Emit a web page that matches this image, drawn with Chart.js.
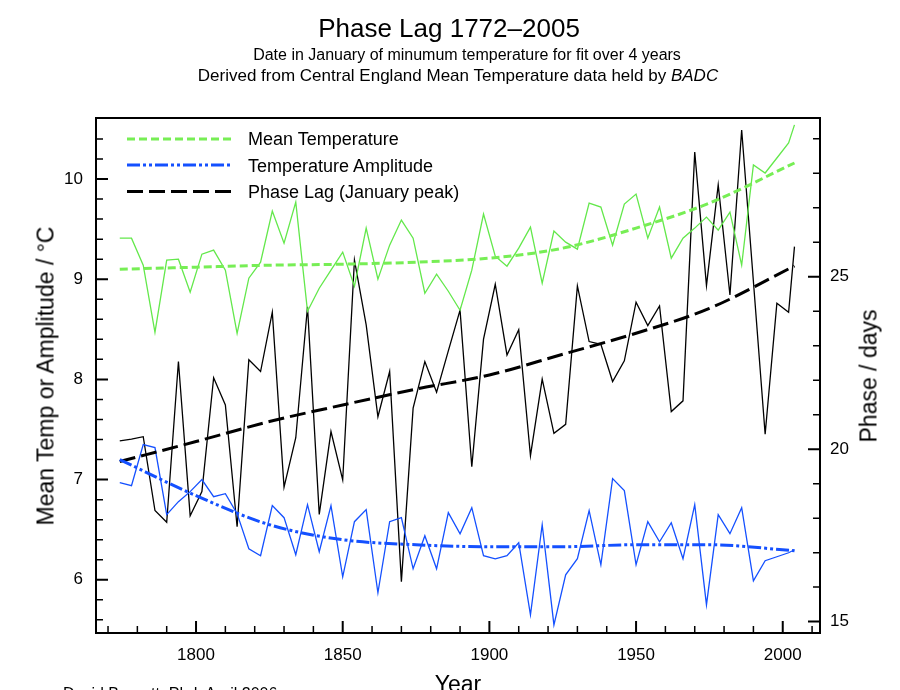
<!DOCTYPE html>
<html>
<head>
<meta charset="utf-8">
<script src="https://cdn.jsdelivr.net/npm/chart.js@4.4.1/dist/chart.umd.min.js"></script>
<style>
  html, body { margin: 0; padding: 0; background: #fff; overflow: hidden; }
  #wrap { position: relative; width: 900px; height: 690px; overflow: hidden;
          font-family: "Liberation Sans", Arial, Helvetica, sans-serif; color: #000; }
  #chart { position: absolute; left: 0; top: 0; }
  .t { position: absolute; white-space: nowrap; line-height: 1; }
  .c { transform: translateX(-50%); }
  .rot { transform: translate(-50%, -50%) rotate(-90deg); }
  #legendLines { position: absolute; left: 0; top: 0; }
</style>
</head>
<body>
<div id="wrap">
  <canvas id="chart" width="900" height="690"></canvas>

  <div class="t c" style="left:449px; top:15px; font-size:26px;">Phase Lag 1772–2005</div>
  <div class="t c" style="left:467px; top:47px; font-size:16px;">Date in January of minumum temperature for fit over 4 years</div>
  <div class="t c" style="left:458px; top:67px; font-size:17px;">Derived from Central England Mean Temperature data held by <i>BADC</i></div>

  <div class="t rot" style="left:46px; top:376px; font-size:23px;">Mean Temp or Amplitude / °C</div>
  <div class="t rot" style="left:869px; top:376px; font-size:23px;">Phase / days</div>
  <div class="t c" style="left:458px; top:673px; font-size:23px;">Year</div>
  <div class="t" style="left:63px; top:686px; font-size:16px;">David Barnett, Phd.  April 2006</div>

  <svg id="legendLines" width="900" height="690">
    <line x1="127" y1="139" x2="232" y2="139" stroke="#77ee55" stroke-width="3" stroke-dasharray="8 4"/>
    <line x1="127" y1="165" x2="232" y2="165" stroke="#1450ff" stroke-width="3" stroke-dasharray="13 3 3 3 3 3"/>
    <line x1="127" y1="191.5" x2="232" y2="191.5" stroke="#000" stroke-width="3" stroke-dasharray="16 6"/>
  </svg>
  <div class="t" style="left:248px; top:130px; font-size:18px;">Mean Temperature</div>
  <div class="t" style="left:248px; top:157px; font-size:18px;">Temperature Amplitude</div>
  <div class="t" style="left:248px; top:183px; font-size:18px;">Phase Lag (January peak)</div>
</div>

<script>
// values, one point per 4-year fit
const years = [1774, 1778, 1782, 1786, 1790, 1794, 1798, 1802, 1806, 1810,
  1814, 1818, 1822, 1826, 1830, 1834, 1838, 1842, 1846, 1850,
  1854, 1858, 1862, 1866, 1870, 1874, 1878, 1882, 1886, 1890,
  1894, 1898, 1902, 1906, 1910, 1914, 1918, 1922, 1926, 1930,
  1934, 1938, 1942, 1946, 1950, 1954, 1958, 1962, 1966, 1970,
  1974, 1978, 1982, 1986, 1990, 1994, 1998, 2002, 2004];

const meanTemp = [9.41, 9.41, 9.14, 8.47, 9.19, 9.20, 8.87, 9.25, 9.29, 9.09,
  8.46, 9.01, 9.17, 9.68, 9.36, 9.77, 8.68, 8.91, 9.09, 9.27,
  8.93, 9.51, 9.00, 9.34, 9.59, 9.41, 8.86, 9.05, 8.88, 8.69,
  9.09, 9.65, 9.23, 9.13, 9.31, 9.52, 8.96, 9.48, 9.37, 9.30,
  9.76, 9.72, 9.34, 9.75, 9.85, 9.41, 9.72, 9.21, 9.41, 9.51,
  9.62, 9.49, 9.67, 9.14, 10.14, 10.06, 10.21, 10.36, 10.54];

const amplitude = [6.97, 6.94, 7.35, 7.32, 6.65, 6.78, 6.88, 7.00, 6.83, 6.86,
  6.66, 6.31, 6.24, 6.74, 6.62, 6.25, 6.75, 6.28, 6.74, 6.03,
  6.58, 6.70, 5.87, 6.58, 6.62, 6.11, 6.44, 6.11, 6.67, 6.46,
  6.72, 6.24, 6.21, 6.24, 6.37, 5.65, 6.55, 5.55, 6.05, 6.21,
  6.69, 6.15, 7.01, 6.89, 6.15, 6.58, 6.38, 6.57, 6.21, 6.75,
  5.75, 6.65, 6.46, 6.72, 5.99, 6.19, 6.23, 6.27, 6.30];

const phaseLag = [20.24, 20.29, 20.36, 18.22, 17.88, 22.54, 18.07, 18.77, 22.07, 21.28,
  17.75, 22.59, 22.25, 23.97, 18.90, 20.33, 24.13, 18.11, 20.51, 19.11,
  25.48, 23.60, 20.94, 22.25, 16.16, 21.19, 22.54, 21.65, 22.85, 24.03,
  19.49, 23.19, 24.78, 22.73, 23.46, 19.81, 22.03, 20.46, 20.72, 24.73,
  23.12, 23.04, 21.96, 22.56, 24.26, 23.58, 24.15, 21.09, 21.40, 28.61,
  24.74, 27.66, 24.47, 29.25, 24.86, 20.43, 24.23, 23.97, 25.87];

// fitted trend curves
const trendYears = [1774, 1800, 1825, 1850, 1875, 1900, 1925, 1950, 1975, 2004];
const meanTrend = [9.10, 9.12, 9.14, 9.15, 9.17, 9.21, 9.31, 9.51, 9.76, 10.16];
const ampTrend = [7.20, 6.84, 6.55, 6.40, 6.35, 6.33, 6.33, 6.35, 6.35, 6.29];
const phaseTrend = [19.64, 20.22, 20.80, 21.28, 21.74, 22.15, 22.75, 23.36, 24.08, 25.31];

const yearTicks = [1800, 1850, 1900, 1950, 2000];
const tempTicks = [6, 7, 8, 9, 10];
const phaseTicks = [15, 20, 25];

const GREEN = '#63e84b';
const GREEN_TREND = '#77ee55';
const BLUE = '#1450ff';
const FONT = '"Liberation Sans", Arial, sans-serif';

const pts = (xs, ys) => xs.map((x, i) => ({ x: x, y: ys[i] }));
const setTicks = list => scale => { scale.ticks = list.map(v => ({ value: v })); };

// tick marks drawn on the inside of the frame, majors and minors
const innerTicks = {
  id: 'innerTicks',
  afterDatasetsDraw(chart) {
    const { ctx, chartArea: a, scales } = chart;
    ctx.save();
    ctx.strokeStyle = '#000';
    ctx.lineCap = 'butt';

    function xMarks(values, len, w) {
      ctx.lineWidth = w;
      ctx.beginPath();
      values.forEach(v => {
        const px = scales.x.getPixelForValue(v);
        ctx.moveTo(px, a.bottom);
        ctx.lineTo(px, a.bottom - len);
      });
      ctx.stroke();
    }
    function yMarks(scale, values, len, w, fromRight) {
      ctx.lineWidth = w;
      ctx.beginPath();
      values.forEach(v => {
        const py = scale.getPixelForValue(v);
        if (py < a.top + 1 || py > a.bottom - 1) return;
        if (fromRight) { ctx.moveTo(a.right, py); ctx.lineTo(a.right - len, py); }
        else { ctx.moveTo(a.left, py); ctx.lineTo(a.left + len, py); }
      });
      ctx.stroke();
    }

    const minorYears = [];
    for (let y = 1770; y <= 2010; y += 10) if (y % 50) minorYears.push(y);
    const minorTemp = [];
    for (let k = 28; k <= 53; k++) if (k % 5) minorTemp.push(k / 5);
    const minorPhase = [];
    for (let d = 15; d <= 29; d++) if (d % 5) minorPhase.push(d);

    xMarks(minorYears, 7, 1.5);
    xMarks(yearTicks, 12, 2);
    yMarks(scales.y, minorTemp, 7, 1.5, false);
    yMarks(scales.y, tempTicks, 12, 2, false);
    yMarks(scales.y2, minorPhase, 7, 1.5, true);
    yMarks(scales.y2, phaseTicks, 12, 2, true);

    ctx.lineWidth = 2;
    ctx.strokeRect(a.left, a.top, a.right - a.left, a.bottom - a.top);
    ctx.restore();
  }
};

const tickFont = { family: FONT, size: 17 };
const noGrid = { display: false, drawTicks: false };

new Chart(document.getElementById('chart'), {
  type: 'line',
  data: {
    datasets: [
      {
        label: 'Mean Temperature',
        data: pts(trendYears, meanTrend),
        yAxisID: 'y',
        borderColor: GREEN_TREND,
        borderWidth: 3,
        borderDash: [8, 4],
        cubicInterpolationMode: 'monotone'
      },
      {
        label: 'Temperature Amplitude',
        data: pts(trendYears, ampTrend),
        yAxisID: 'y',
        borderColor: BLUE,
        borderWidth: 3,
        borderDash: [13, 3, 3, 3, 3, 3],
        cubicInterpolationMode: 'monotone'
      },
      {
        label: 'Phase Lag (January peak)',
        data: pts(trendYears, phaseTrend),
        yAxisID: 'y2',
        borderColor: '#000',
        borderWidth: 3,
        borderDash: [16, 6],
        cubicInterpolationMode: 'monotone'
      },
      {
        label: 'Mean temperature, 4-year fit',
        data: pts(years, meanTemp),
        yAxisID: 'y',
        borderColor: GREEN,
        borderWidth: 1.3
      },
      {
        label: 'Amplitude, 4-year fit',
        data: pts(years, amplitude),
        yAxisID: 'y',
        borderColor: BLUE,
        borderWidth: 1.3
      },
      {
        label: 'Phase, 4-year fit',
        data: pts(years, phaseLag),
        yAxisID: 'y2',
        borderColor: '#000',
        borderWidth: 1.3
      }
    ]
  },
  options: {
    responsive: false,
    animation: false,
    devicePixelRatio: 1,
    layout: { padding: { top: 118, left: 0, right: 0, bottom: 0 } },
    elements: { point: { radius: 0 }, line: { tension: 0, fill: false } },
    plugins: { legend: { display: false }, title: { display: false }, tooltip: { enabled: false } },
    scales: {
      x: {
        type: 'linear',
        min: 1765.9,
        max: 2012.7,
        afterBuildTicks: setTicks(yearTicks),
        afterFit: s => { s.height = 57; },
        grid: noGrid,
        border: { display: false },
        ticks: { font: tickFont, color: '#000', padding: 12, maxRotation: 0, autoSkip: false,
                 callback: v => String(v) }
      },
      y: {
        type: 'linear',
        position: 'left',
        min: 5.469,
        max: 10.609,
        afterBuildTicks: setTicks(tempTicks),
        afterFit: s => { s.width = 96; },
        grid: noGrid,
        border: { display: false },
        ticks: { font: tickFont, color: '#000', padding: 13, callback: v => String(v) }
      },
      y2: {
        type: 'linear',
        position: 'right',
        min: 14.67,
        max: 29.60,
        afterBuildTicks: setTicks(phaseTicks),
        afterFit: s => { s.width = 80; },
        grid: noGrid,
        border: { display: false },
        ticks: { font: tickFont, color: '#000', padding: 10, callback: v => String(v) }
      }
    }
  },
  plugins: [innerTicks]
});
</script>
</body>
</html>
